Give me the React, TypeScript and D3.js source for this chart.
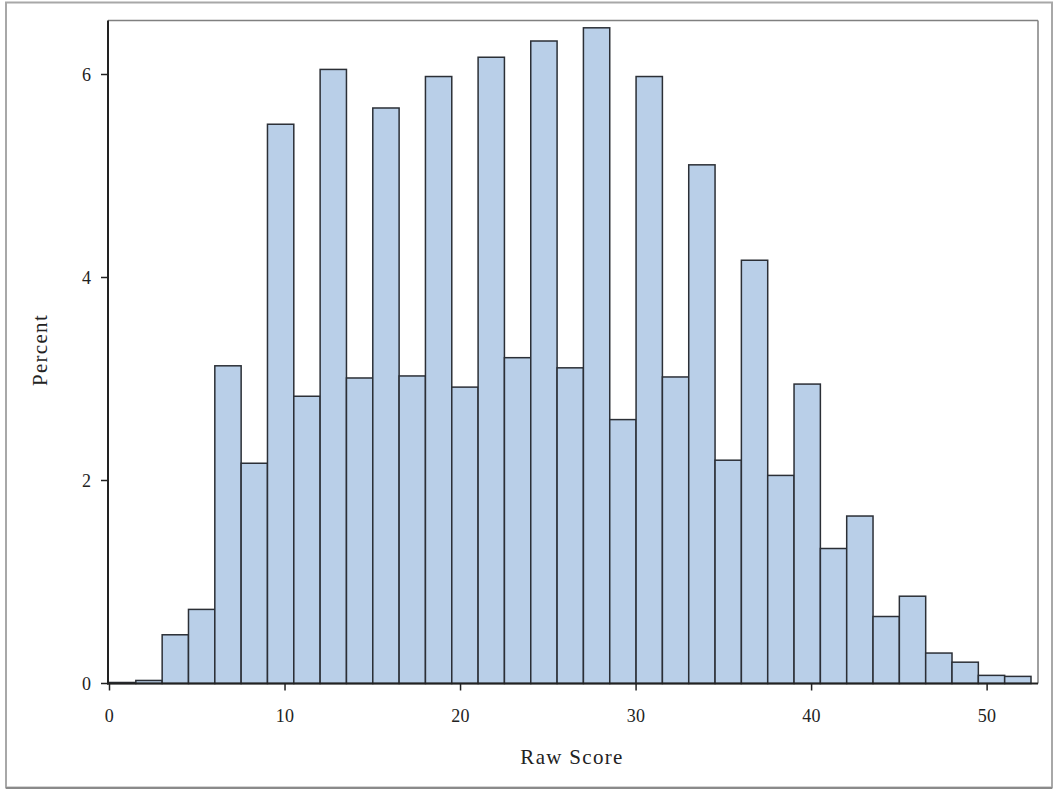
import React from "react";
import * as d3 from "d3";

const binStart = 0;
const binWidth = 1.5;
const percents = [
  0.01, 0.03, 0.48, 0.73, 3.13, 2.17, 5.51, 2.83, 6.05, 3.01,
  5.67, 3.03, 5.98, 2.92, 6.17, 3.21, 6.33, 3.11, 6.46, 2.6,
  5.98, 3.02, 5.11, 2.2, 4.17, 2.05, 2.95, 1.33, 1.65, 0.66,
  0.86, 0.3, 0.21, 0.08, 0.07,
];
const xTicks = [0, 10, 20, 30, 40, 50];
const yTicks = [0, 2, 4, 6];
const xLabel = "Raw Score";
const yLabel = "Percent";

export default function App() {
  const W = 1055, H = 790;
  const plotL = 108, plotR = 1038, plotT = 20.5, plotB = 683.5;
  const x = d3.scaleLinear().domain([0, 52.5]).range([109.5, 1031]);
  const y = d3.scaleLinear().domain([0, 6]).range([683.5, 74.5]);
  const font = "'Liberation Serif', 'Times New Roman', serif";
  const bins = percents.map((p, i) => ({ x0: binStart + i * binWidth, x1: binStart + (i + 1) * binWidth, p }));
  return (
    <svg width={W} height={H} style={{ position: "absolute", left: 0, top: 0 }}>
      <rect x={0} y={0} width={W} height={H} fill="#fff" />
      <rect x={6} y={2.5} width={1046} height={785} fill="#fff" stroke="#a8a8a8" strokeWidth={2} />
      <line x1={6} x2={1052} y1={788} y2={788} stroke="#8a8a8a" strokeWidth={2} />
      {/* plot frame */}
      <line x1={plotL} x2={plotR} y1={plotT} y2={plotT} stroke="#808080" strokeWidth={1.5} />
      <line x1={plotR} x2={plotR} y1={plotT} y2={plotB} stroke="#808080" strokeWidth={1.5} />
      {bins.map((b, i) => (
        <rect
          key={i}
          x={x(b.x0)}
          y={y(b.p)}
          width={x(b.x1) - x(b.x0)}
          height={y(0) - y(b.p)}
          fill="#b9cfe8"
          stroke="#2b2f36"
          strokeWidth={1.5}
        />
      ))}
      {/* axes */}
      <line x1={plotL} x2={plotL} y1={plotT} y2={plotB + 1} stroke="#222" strokeWidth={2} />
      <line x1={plotL - 1} x2={plotR} y1={plotB} y2={plotB} stroke="#222" strokeWidth={2} />
      {xTicks.map((t) => (
        <g key={t}>
          <line x1={x(t)} x2={x(t)} y1={plotB} y2={plotB + 7} stroke="#222" strokeWidth={1.5} />
          <text x={x(t)} y={722} textAnchor="middle" fontFamily={font} fontSize={18} letterSpacing={0.3} fill="#222">{t}</text>
        </g>
      ))}
      {yTicks.map((t) => (
        <g key={t}>
          <line x1={plotL - 7} x2={plotL} y1={y(t)} y2={y(t)} stroke="#222" strokeWidth={1.5} />
          <text x={91} y={y(t) + 6.5} textAnchor="end" fontFamily={font} fontSize={18} fill="#222">{t}</text>
        </g>
      ))}
      <text x={572} y={764} textAnchor="middle" fontFamily={font} fontSize={21} letterSpacing={1.3} fill="#222">{xLabel}</text>
      <text transform={`translate(47,350) rotate(-90)`} textAnchor="middle" fontFamily={font} fontSize={21} letterSpacing={1.3} fill="#222">{yLabel}</text>
    </svg>
  );
}
